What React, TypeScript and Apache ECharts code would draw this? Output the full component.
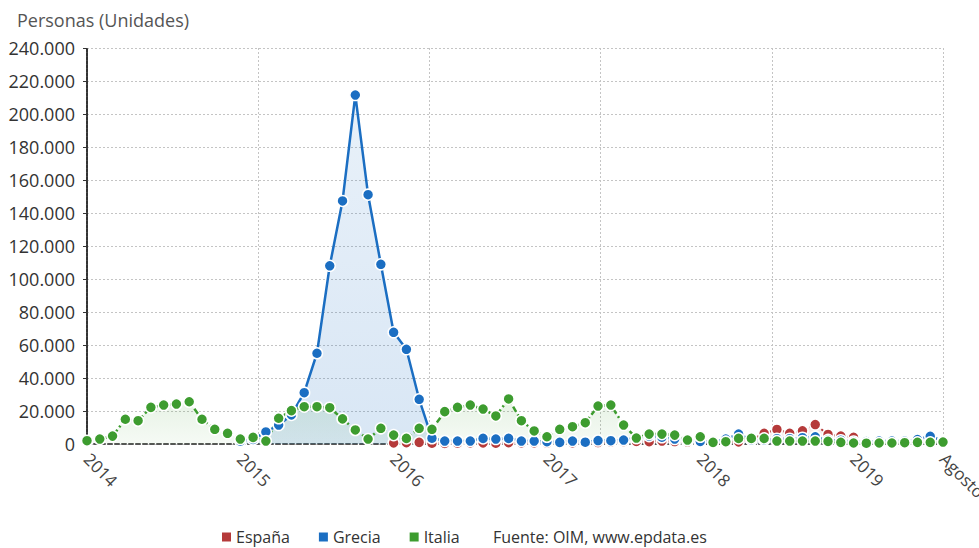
import React, { useEffect, useRef } from "react";
import * as echarts from "echarts";

const months = [
  "2014-01","2014-02","2014-03","2014-04","2014-05","2014-06","2014-07","2014-08","2014-09","2014-10","2014-11","2014-12",
  "2015-01","2015-02","2015-03","2015-04","2015-05","2015-06","2015-07","2015-08","2015-09","2015-10","2015-11","2015-12",
  "2016-01","2016-02","2016-03","2016-04","2016-05","2016-06","2016-07","2016-08","2016-09","2016-10","2016-11","2016-12",
  "2017-01","2017-02","2017-03","2017-04","2017-05","2017-06","2017-07","2017-08","2017-09","2017-10","2017-11","2017-12",
  "2018-01","2018-02","2018-03","2018-04","2018-05","2018-06","2018-07","2018-08","2018-09","2018-10","2018-11","2018-12",
  "2019-01","2019-02","2019-03","2019-04","2019-05","2019-06","2019-07","2019-08",
];

const tickIndices = [0, 12, 24, 36, 48, 60, 67];
const tickLabels = ["2014", "2015", "2016", "2017", "2018", "2019", "Agosto"];

const N = null;
const espana = [
  N, N, N, N, N, N, N, N, N, N, N, N,
  N, N, N, N, N, N, N, N, N, N, N, N,
  600, 800, 1000, 500, 400, 500, 600, 600, 500, 800, 600, 700,
  500, 600, 700, 800, 900, 1200, 1500, 1600, 1400, 1800, 1500, 1200,
  1200, 1100, 1000, 1300, 2500, 6500, 8800, 6500, 8000, 11800, 5800, 4800,
  4000, 1500, 1400, 1200, 1500, 1400, 1600, 1200,
];
const grecia = [
  N, N, N, N, N, N, N, N, N, N, N, N,
  1700, 2800, 7300, 11500, 17600, 31100, 55000, 108000, 147300, 211500, 151100, 108900,
  67700, 57400, 27100, 3500, 1800, 1800, 1800, 3400, 3000, 3400, 1800, 1800,
  1400, 1000, 1800, 1100, 2100, 2000, 2400, 3600, 4800, 4100, 3000, 2200,
  1600, 1300, 3000, 6000, 2500, 2500, 3200, 3200, 3800, 4400, 2500, 2300,
  1500, 1500, 1800, 1800, 1800, 2700, 4700, 1800,
];
const italia = [
  2000, 3000, 4800, 15000, 14100, 22200, 23600, 24200, 25600, 15000, 8900, 6500,
  3000, 4000, 1800, 15600, 20200, 22600, 22600, 22000, 15200, 8500, 3000, 9500,
  5400, 3400, 9500, 8900, 19600, 22200, 23600, 21200, 17000, 27300, 14100, 7900,
  4400, 8900, 10500, 12900, 23000, 23600, 11500, 3600, 6000, 6000, 5400, 2400,
  4400, 1000, 1400, 3400, 3400, 3400, 1800, 1800, 1800, 1800, 1600, 1000,
  600, 500, 600, 600, 800, 1000, 1000, 1200,
];

const seriesNames = ["España", "Grecia", "Italia"];
const RED = "#b53a3a";
const BLUE = "#1b6ec2";
const GREEN = "#3d9c2f";
const FONT = "'Open Sans', 'Noto Sans', sans-serif";

function fmt(v: number) {
  return String(Math.round(v)).replace(/\B(?=(\d{3})+(?!\d))/g, ".");
}

function area(r: number, g: number, b: number, a0: number, a1: number) {
  return new echarts.graphic.LinearGradient(0, 0, 0, 1, [
    { offset: 0, color: `rgba(${r},${g},${b},${a0})` },
    { offset: 1, color: `rgba(${r},${g},${b},${a1})` },
  ]);
}

export default function App() {
  const ref = useRef<HTMLDivElement>(null);
  useEffect(() => {
    document.body.style.margin = "0";
    document.body.style.overflow = "hidden";
    const chart = echarts.init(ref.current!, null, { renderer: "svg", width: 979, height: 548 });
    const mk = (name: string, data: any[], color: string, dash: any, fill: any, width: number) => ({
      name,
      type: "line",
      data,
      xAxisIndex: 0,
      yAxisIndex: 0,
      symbol: "circle",
      symbolSize: 11,
      showSymbol: true,
      showAllSymbol: true,
      connectNulls: false,
      itemStyle: { color, borderColor: "#fff", borderWidth: 1.5 },
      lineStyle: { color, width, type: dash },
      areaStyle: { color: fill },
      emphasis: { disabled: true },
    });
    chart.setOption({
      animation: false,
      textStyle: { fontFamily: FONT },
      title: {
        text: "Personas (Unidades)",
        left: 17,
        top: 11,
        padding: 0,
        textStyle: { fontSize: 18, fontWeight: "normal", color: "#555", fontFamily: FONT },
      },
      grid: {
        left: 87,
        right: 36,
        top: 48,
        bottom: 104,
        containLabel: false,
        outerBoundsMode: "none",
      },
      legend: {
        data: seriesNames,
        left: 222,
        top: 529,
        padding: 0,
        icon: "rect",
        itemWidth: 9,
        itemHeight: 9,
        itemGap: 29,
        textStyle: { fontSize: 16, lineHeight: 16, color: "#333", fontFamily: FONT },
        itemStyle: { borderWidth: 0 },
        lineStyle: { width: 0 },
      },
      graphic: [
        {
          type: "text",
          left: 493,
          top: 529,
          style: { text: "Fuente: OIM, www.epdata.es", fontSize: 16, lineHeight: 16, fill: "#333", fontFamily: FONT },
        },
      ],
      xAxis: [
        {
          type: "category",
          data: months,
          boundaryGap: false,
          position: "bottom",
          axisLine: { show: true, lineStyle: { color: "#555", width: 2, type: [4, 3] } },
          axisTick: { show: false },
          splitLine: { show: false },
          axisLabel: {
            interval: (i: number) => tickIndices.indexOf(i) >= 0,
            formatter: (_v: string, i: number) => {
              const k = tickIndices.indexOf(i);
              return k >= 0 ? tickLabels[k] : "";
            },
            rotate: -45,
            margin: 12,
            fontSize: 17,
            color: "#444",
            fontFamily: FONT,
          },
        },
        {
          type: "value",
          position: "top",
          min: 0,
          max: 5,
          interval: 1,
          axisLine: { show: false },
          axisTick: { show: false },
          axisLabel: { show: false },
          splitLine: { show: true, lineStyle: { color: "#c4c4c4", width: 1, type: [2, 2] } },
        },
      ],
      yAxis: {
        type: "value",
        min: 0,
        max: 240000,
        interval: 20000,
        axisLine: { show: true, lineStyle: { color: "#333", width: 2, type: [3, 1] } },
        axisTick: { show: true, length: 4, lineStyle: { color: "#333" } },
        splitLine: { show: true, lineStyle: { color: "#c4c4c4", width: 1, type: [2, 2] } },
        axisLabel: {
          formatter: (v: number) => fmt(v),
          fontSize: 18,
          color: "#333",
          margin: 12,
          fontFamily: FONT,
        },
      },
      series: [
        mk("España", espana, RED, [4, 3], area(181, 58, 58, 0.18, 0.08), 2),
        mk("Grecia", grecia, BLUE, "solid", area(27, 110, 194, 0.14, 0.24), 2.5),
        mk("Italia", italia, GREEN, [6, 3, 2, 3], area(61, 156, 47, 0.18, 0.07), 2.5),
      ],
    });
    return () => chart.dispose();
  }, []);
  return (
    <div
      ref={ref}
      style={{ position: "absolute", left: 0, top: 0, width: 979, height: 548, background: "#fff" }}
    />
  );
}
